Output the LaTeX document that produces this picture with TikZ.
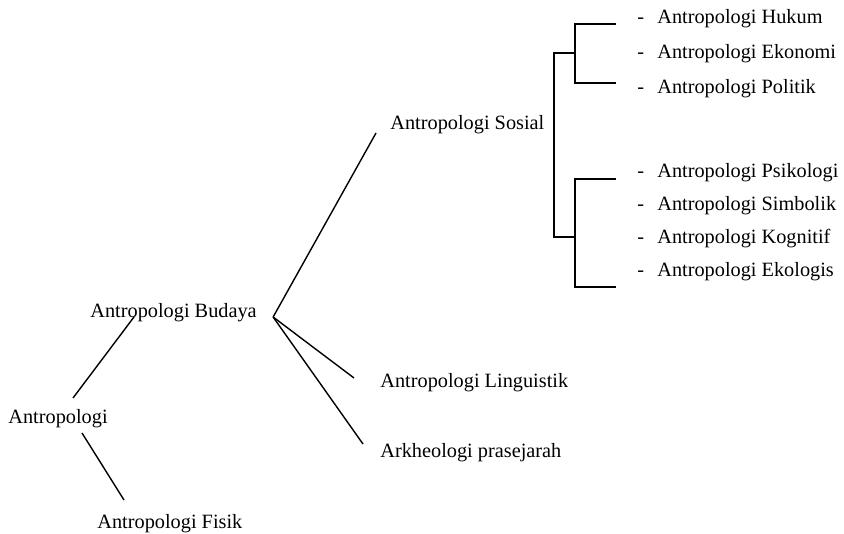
\documentclass[tikz,border=0pt]{standalone}
\usepackage{fontspec}
\setmainfont{Liberation Serif}
\usepackage{tikz}
\usetikzlibrary{positioning}
\tikzset{
    field/.style={anchor=base west, inner sep=0pt, font=\fontsize{10.15}{12}\selectfont},
    branch/.style={line width=0.7pt},
}
\newcommand{\itemdash}{-\hspace{6.6pt}}

\begin{document}
\begin{tikzpicture}[x=0.5pt, y=-0.5pt]
\useasboundingbox (0,0) rectangle (844,534);
\node[field] (root) at (8,423) {Antropologi};
\node[field] (budaya) at (90,317) {Antropologi Budaya};
\node[field] (fisik) at (97,528) {Antropologi Fisik};
\node[field] (sosial) at (390,130) {Antropologi Sosial};
\node[field] (linguistik) at (380,387) {Antropologi Linguistik};
\node[field] (arkeologi) at (380,457) {Arkheologi prasejarah};
\node[field] (hukum) at (637,24) {\itemdash Antropologi Hukum};
\node[field] (ekonomi) at (637,59) {\itemdash Antropologi Ekonomi};
\node[field] (politik) at (637,94) {\itemdash Antropologi Politik};
\node[field] (psikologi) at (637,177) {\itemdash Antropologi Psikologi};
\node[field] (simbolik) at (637,210) {\itemdash Antropologi Simbolik};
\node[field] (kognitif) at (637,243) {\itemdash Antropologi Kognitif};
\node[field] (ekologis) at (637,276) {\itemdash Antropologi Ekologis};
\coordinate (budayafork) at ([xshift=8pt]budaya.base east);
\coordinate (sosialfork) at (554,134);
\draw[branch] ([shift={(65,-25)}]root.base west) -- ([shift={(44,0)}]budaya.base west);
\draw[branch] ([shift={(74,10)}]root.base west) -- ([shift={(27,-28)}]fisik.base west);
\draw[branch] (budayafork) -- ([shift={(-14,3)}]sosial.base west);
\draw[branch] (budayafork) -- ([shift={(-26,-9)}]linguistik.base west);
\draw[branch] (budayafork) -- ([shift={(-17,-13)}]arkeologi.base west);
\draw[branch] (575,53) -| (sosialfork) |- (575,237);
\draw[branch] (616,24) -| (575,83) -- (616,83);
\draw[branch] (616,179) -| (575,287) -- (616,287);
\end{tikzpicture}
\end{document}
